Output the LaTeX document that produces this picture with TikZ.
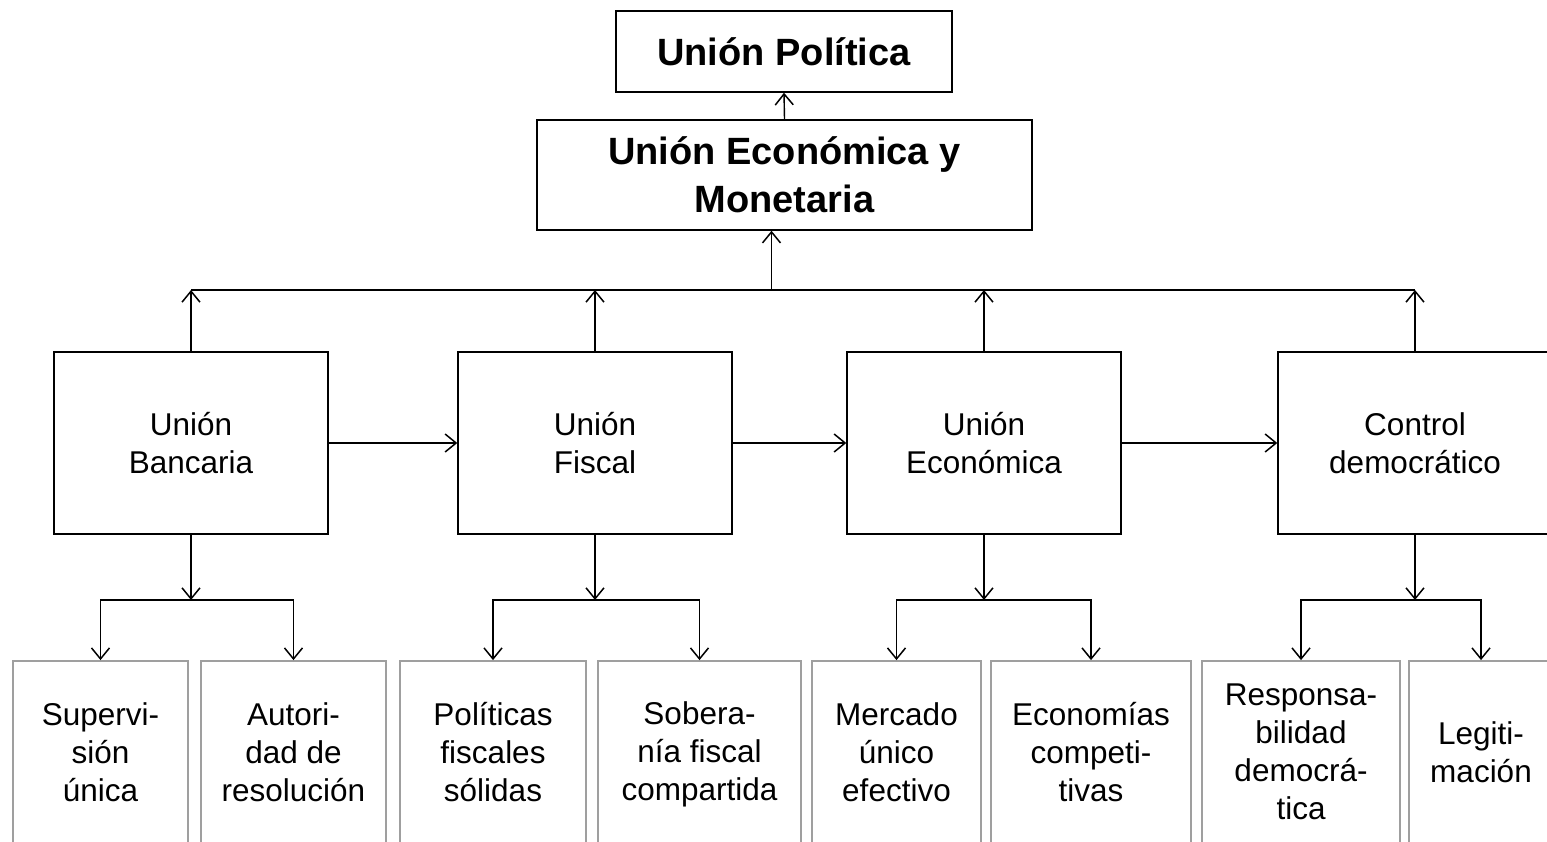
\documentclass[tikz,border=0pt]{standalone}
\usepackage{fontspec}
\setmainfont{Liberation Sans}
\usetikzlibrary{arrows.meta,calc}
\newcommand\boxstrutA{\rule[-5.4pt]{0pt}{38pt}}
\newcommand\boxstrutB{\rule[-5.4pt]{0pt}{38pt}}
\begin{document}
\begin{tikzpicture}[x=1pt,y=-1pt,
  line width=1.4pt,
  arr/.style={-{Straight Barb[length=11pt,width=18pt,line width=1.5pt]}},
  arrboth/.style={{Straight Barb[length=11pt,width=18pt,line width=1.5pt]}-{Straight Barb[length=11pt,width=18pt,line width=1.5pt]}},
  topbox/.style={draw=black, line width=1.5pt, align=center, inner sep=0pt,
    font=\fontsize{38}{48}\selectfont\bfseries},
  boxtext/.style={align=center, inner sep=0pt, yshift=-2.5pt,
    font=\fontsize{31.5}{38}\selectfont,
    execute at begin node=\boxstrutA, execute at end node=\boxstrutB},
  midbox/.style={draw=black, line width=1.4pt, inner sep=0pt,
    minimum width=274pt, minimum height=182pt,
    label={[boxtext]center:#1}},
  lowbox/.style={draw=gray!75, line width=1.8pt, inner sep=0pt,
    minimum height=182pt, label={[boxtext]center:#1}}
]
\useasboundingbox (0,0) rectangle (1547,842);
\fill[white] (0,0) rectangle (1547,842);

\node[topbox, minimum width=336pt, minimum height=81pt] (up) at (784,51.5) {Unión Política};
\node[topbox, minimum width=495pt, minimum height=110pt] (uem) at (784.5,175) {Unión Económica y\\Monetaria};

\node[midbox={Unión\\Bancaria}] (m1) at (191,443) {};
\node[midbox={Unión\\Fiscal}] (m2) at (595,443) {};
\node[midbox={Unión\\Económica}] (m3) at (984,443) {};
\node[midbox={Control\\democrático}] (m4) at (1415,443) {};

\node[lowbox={Supervi-\\sión\\única}, minimum width=175pt] (c1) at (100.5,752) {};
\node[lowbox={Autori-\\dad de\\resolución}, minimum width=185pt] (c2) at (293.5,752) {};
\node[lowbox={Políticas\\fiscales\\sólidas}, minimum width=186pt] (c3) at (493,752) {};
\node[lowbox={Sobera-\\nía fiscal\\compartida}, minimum width=203pt] (c4) at (699.5,752) {};
\node[lowbox={Mercado\\único\\efectivo}, minimum width=169pt] (c5) at (896.5,752) {};
\node[lowbox={Economías\\competi-\\tivas}, minimum width=200pt] (c6) at (1091,752) {};
\node[lowbox={Responsa-\\bilidad\\democrá-\\tica}, minimum width=198pt] (c7) at (1301,752) {};
\node[lowbox={Legiti-\\mación}, minimum width=144pt] (c8) at (1481,752) {};

% top connections
\draw[arr] (uem.north) -- (up.south);
\coordinate (bar) at (0,290);
\draw (m1.north |- bar) -- (m4.north |- bar);
\draw[arr] ([xshift=-13pt]uem.south |- bar) -- ([xshift=-13pt]uem.south);
\foreach \m in {m1,m2,m3,m4}{
  \draw[arr] (\m.north) -- (\m.north |- bar);
}

% horizontal chain
\draw[arr] (m1.east) -- (m2.west);
\draw[arr] (m2.east) -- (m3.west);
\draw[arr] (m3.east) -- (m4.west);

% downward groups
\coordinate (gbar) at (0,600);
\foreach \m/\a/\b in {m1/c1/c2, m2/c3/c4, m3/c5/c6, m4/c7/c8}{
  \draw[arr] (\m.south) -- (\m.south |- gbar);
  \draw[arrboth] (\a.north) -- (\a.north |- gbar) -- (\b.north |- gbar) -- (\b.north);
}
\end{tikzpicture}
\end{document}
